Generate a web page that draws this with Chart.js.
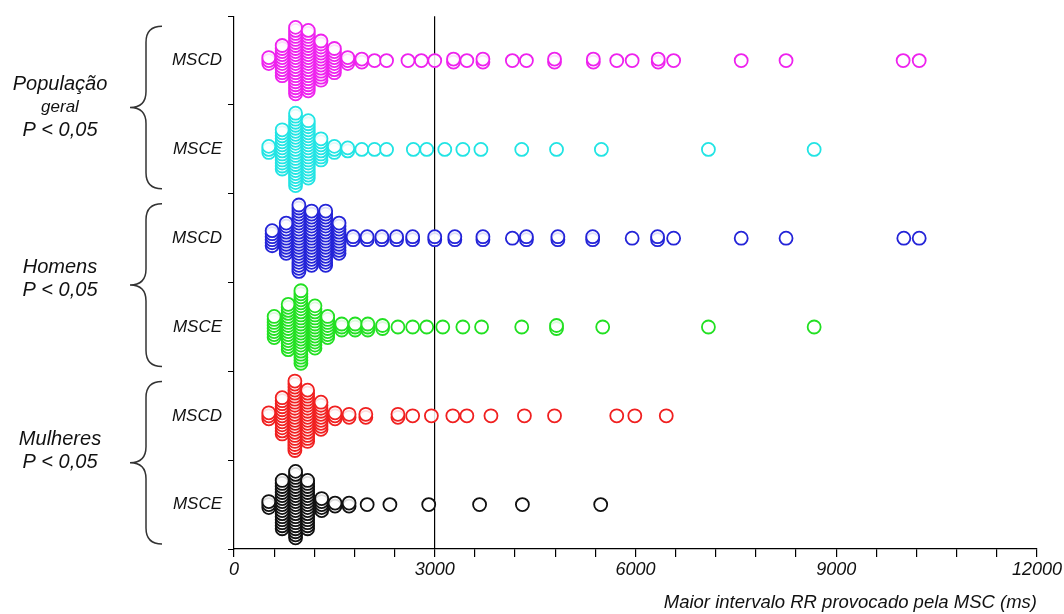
<!DOCTYPE html>
<html lang="pt">
<head>
<meta charset="UTF-8">
<title>Maior intervalo RR provocado pela MSC</title>
<script src="https://cdn.jsdelivr.net/npm/chart.js"></script>
<style>
  html, body { margin: 0; padding: 0; background: #fff; }
  #wrap { width: 1064px; height: 614px; position: relative; }
</style>
</head>
<body>
<div id="wrap"><canvas id="chart" width="1064" height="614"></canvas></div>
<script>
// rows, top to bottom
const rowLabels = ['MSCD', 'MSCE', 'MSCD', 'MSCE', 'MSCD', 'MSCE'];
const groupLabels = [['População', 'geral', 'P < 0,05'], ['Homens', 'P < 0,05'], ['Mulheres', 'P < 0,05']];
const xMajor = [0, 3000, 6000, 9000, 12000];

// each row: RR value of a column (ms) and how many subjects are stacked there
const popMSCD_x = [520, 720, 920, 1110, 1300, 1500, 1700, 1910, 2100, 2280, 2600, 2800, 3000, 3280, 3480, 3720, 4160, 4370, 4790, 5370, 5720, 5950, 6340, 6570, 7580, 8250, 10000, 10240];
const popMSCD_n = [3, 11, 23, 21, 14, 9, 3, 2, 1, 1, 1, 1, 1, 2, 1, 2, 1, 1, 2, 2, 1, 1, 2, 1, 1, 1, 1, 1];

const popMSCE_x = [520, 720, 920, 1110, 1300, 1500, 1700, 1910, 2100, 2280, 2680, 2880, 3150, 3420, 3690, 4300, 4820, 5490, 7090, 8670];
const popMSCE_n = [3, 14, 25, 20, 8, 3, 2, 1, 1, 1, 1, 1, 1, 1, 1, 1, 1, 1, 1, 1];

const homMSCD_x = [570, 780, 970, 1160, 1370, 1570, 1780, 1990, 2210, 2430, 2670, 3000, 3300, 3720, 4160, 4370, 4840, 5360, 5950, 6330, 6570, 7580, 8250, 10010, 10240];
const homMSCD_n = [6, 11, 23, 19, 19, 11, 2, 2, 2, 2, 2, 2, 2, 2, 1, 2, 2, 2, 1, 2, 1, 1, 1, 1, 1];

const homMSCE_x = [600, 810, 1000, 1210, 1400, 1610, 1810, 2000, 2220, 2450, 2670, 2880, 3120, 3420, 3700, 4300, 4820, 5510, 7090, 8670];
const homMSCE_n = [8, 16, 25, 15, 8, 3, 3, 3, 2, 1, 1, 1, 1, 1, 1, 1, 2, 1, 1, 1];

const mulMSCD_x = [520, 720, 910, 1100, 1300, 1510, 1720, 1970, 2450, 2670, 2950, 3270, 3480, 3840, 4340, 4790, 5720, 5990, 6460];
const mulMSCD_n = [3, 13, 24, 18, 10, 3, 2, 2, 2, 1, 1, 1, 1, 1, 1, 1, 1, 1, 1];

const mulMSCE_x = [520, 720, 920, 1100, 1310, 1510, 1720, 1990, 2330, 2910, 3670, 4310, 5480];
const mulMSCE_n = [3, 17, 23, 17, 5, 2, 2, 1, 1, 1, 1, 1, 1];

const rowsX = [popMSCD_x, popMSCE_x, homMSCD_x, homMSCE_x, mulMSCD_x, mulMSCE_x];
const rowsN = [popMSCD_n, popMSCE_n, homMSCD_n, homMSCE_n, mulMSCD_n, mulMSCE_n];
const rowColors = ['#ee22ee', '#22e4e4', '#2424d8', '#22e022', '#f02020', '#111111'];

const stackStep = 0.034;   // vertical gap between stacked points, in row units
const fontFam = '"Liberation Sans", Arial, sans-serif';

// stack the points of every column around the row centre, lowest first
function swarm(xs, ns, centre) {
    const pts = [];
    xs.forEach((x, i) => {
        const n = ns[i];
        for (let k = 0; k < n; k++) {
            pts.push({ x: x, y: centre + (k - (n - 1) / 2) * stackStep });
        }
    });
    return pts;
}

const datasets = rowLabels.map((lab, i) => ({
    label: lab,
    data: swarm(rowsX[i], rowsN[i], rowLabels.length - 0.5 - i),
    borderColor: rowColors[i],
    backgroundColor: 'rgba(255,255,255,0.85)',
    pointRadius: 6.5,
    pointHoverRadius: 6.5,
    pointBorderWidth: 1.8
}));

// curly braces and group names on the left
const bracePlugin = {
    id: 'braces',
    afterDraw(chart) {
        const ctx = chart.ctx;
        const y = chart.scales.y;
        const shift = [0, -6, -12];
        ctx.save();
        ctx.strokeStyle = '#333';
        ctx.lineWidth = 1.5;
        groupLabels.forEach((lines, g) => {
            const top = y.getPixelForValue(6 - 2 * g) + 10;
            const bot = y.getPixelForValue(4 - 2 * g) - 5;
            const mid = (top + bot) / 2;
            const xe = 162, xs = 146, xt = 130, r = 16;
            ctx.beginPath();
            ctx.moveTo(xe, top);
            ctx.quadraticCurveTo(xs, top, xs, top + r);
            ctx.lineTo(xs, mid - r);
            ctx.quadraticCurveTo(xs, mid, xt, mid);
            ctx.quadraticCurveTo(xs, mid, xs, mid + r);
            ctx.lineTo(xs, bot - r);
            ctx.quadraticCurveTo(xs, bot, xe, bot);
            ctx.stroke();

            ctx.fillStyle = '#111';
            ctx.textAlign = 'center';
            ctx.textBaseline = 'middle';
            const gap = 23;
            const start = mid + shift[g] - (lines.length - 1) * gap / 2;
            lines.forEach((t, k) => {
                const small = t === 'geral';
                ctx.font = 'italic ' + (small ? 17 : 20) + 'px ' + fontFam;
                ctx.fillText(t, 60, start + k * gap);
            });
        });
        ctx.restore();
    }
};

new Chart(document.getElementById('chart'), {
    type: 'scatter',
    data: { datasets: datasets },
    options: {
        responsive: false,
        animation: false,
        events: [],
        layout: { padding: { top: 15, right: 24, left: 0, bottom: 0 } },
        plugins: { legend: { display: false }, tooltip: { enabled: false } },
        scales: {
            x: {
                type: 'linear',
                min: 0,
                max: 12000,
                afterFit: s => { s.height = 65; },
                ticks: {
                    stepSize: 600,
                    autoSkip: false,
                    maxRotation: 0,
                    padding: 2,
                    color: '#111',
                    font: { family: fontFam, size: 18, style: 'italic' },
                    callback: v => xMajor.includes(v) ? String(v) : ''
                },
                grid: {
                    drawOnChartArea: true,
                    color: c => (c.tick && c.tick.value === 3000) ? '#000' : 'rgba(0,0,0,0)',
                    lineWidth: 1.2,
                    tickColor: '#000',
                    tickLength: 8
                },
                border: { color: '#000', width: 1.2 },
                title: {
                    display: true,
                    text: 'Maior intervalo RR provocado pela MSC (ms)',
                    align: 'end',
                    color: '#111',
                    padding: { top: 0, bottom: 0 },
                    font: { family: fontFam, size: 18.5, style: 'italic' }
                }
            },
            y: {
                type: 'linear',
                min: 0,
                max: 6,
                afterFit: s => { s.width = 234; },
                afterBuildTicks: s => {
                    const t = [];
                    for (let v = 0; v <= 12; v++) t.push({ value: v / 2 });
                    s.ticks = t;
                },
                ticks: {
                    padding: 6,
                    color: '#111',
                    font: { family: fontFam, size: 17, style: 'italic' },
                    callback: v => Number.isInteger(v) ? '' : rowLabels[Math.round(5.5 - v)]
                },
                grid: {
                    drawOnChartArea: false,
                    tickLength: 6,
                    tickColor: c => (c.tick && Number.isInteger(c.tick.value)) ? '#000' : 'rgba(0,0,0,0)'
                },
                border: { color: '#000', width: 1.2 }
            }
        }
    },
    plugins: [bracePlugin]
});
</script>
</body>
</html>
